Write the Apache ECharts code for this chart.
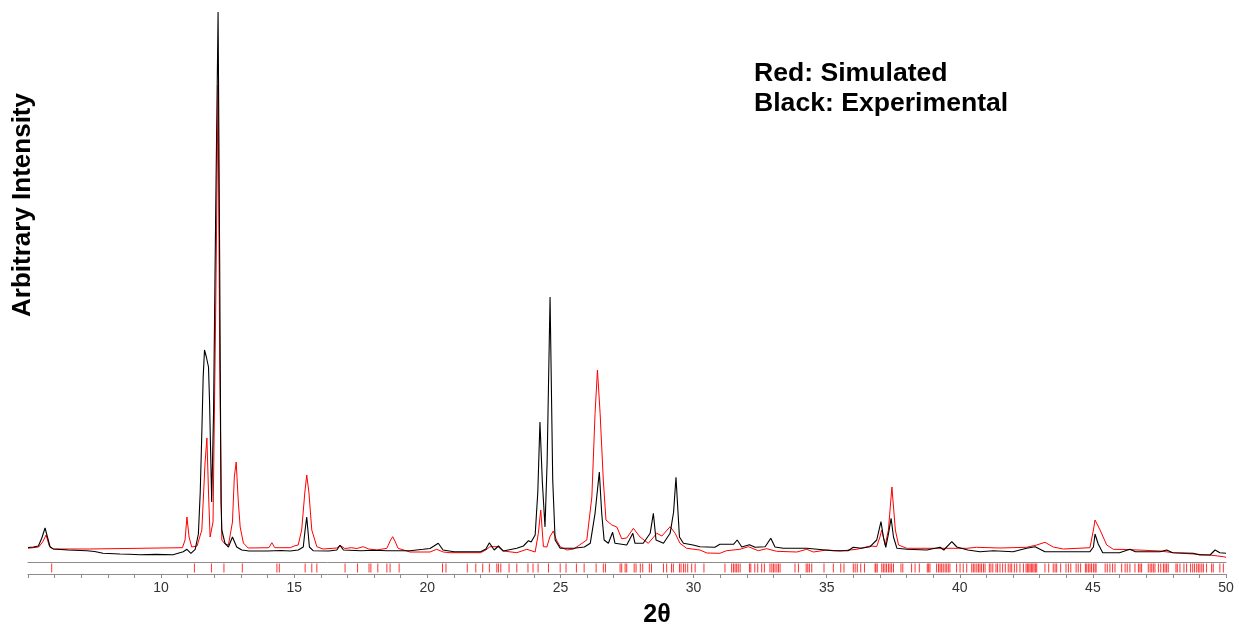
<!DOCTYPE html>
<html>
<head>
<meta charset="utf-8">
<script src="https://cdn.jsdelivr.net/npm/echarts@6/dist/echarts.min.js"></script>
<style>
html,body{margin:0;padding:0;background:#fff;}
#chart{width:1239px;height:630px;}
</style>
</head>
<body>
<div id="chart"></div>
<script>
// Experimental pattern (black): [2theta, intensity]
const experimental = [
[5.00,14.5],[5.20,15],[5.39,16],[5.52,24],[5.64,34],[5.74,24],[5.83,15],[5.95,13],[6.5,12],[7.21,11.3],[7.5,10.5],[7.82,8.7],[8.45,8],[8.8,7.8],[9.21,7.3],[9.8,7.6],[10.45,7.3],[10.83,10.3],[10.97,12.7],[11.12,8.7],[11.28,12.7],[11.40,28],[11.47,70],[11.53,130],[11.58,185],[11.63,212],[11.70,205],[11.78,195],[11.82,160],[11.90,60],[11.97,150],[12.05,350],[12.14,550],[12.20,300],[12.25,60],[12.28,32],[12.40,18.7],[12.53,15],[12.68,25],[12.84,15],[13.03,12],[13.3,11],[14.0,11],[14.5,11.5],[14.85,11],[15.15,12],[15.34,15],[15.40,30],[15.47,45],[15.52,30],[15.57,15],[15.71,11.3],[16.3,11],[16.60,12],[16.72,16.7],[16.85,12],[17.5,11.3],[18.0,11.8],[18.5,11.3],[19.35,11.3],[19.84,12.7],[20.10,13.5],[20.25,16],[20.41,18.7],[20.59,12],[21.0,10.3],[22.0,10.3],[22.20,13],[22.33,19.3],[22.51,12],[22.67,16],[22.85,11],[23.36,13.7],[23.61,16],[23.80,21.3],[23.90,20],[24.05,27],[24.15,70],[24.23,140],[24.32,80],[24.42,35],[24.50,100],[24.61,265],[24.71,82],[24.80,22],[24.99,13.7],[25.5,13.7],[25.9,15],[26.12,18.7],[26.30,48.7],[26.46,90],[26.55,48.7],[26.64,22],[26.80,18.7],[26.96,29.7],[27.05,18.7],[27.49,17],[27.72,28.7],[27.80,18.7],[28.11,18.7],[28.37,28.7],[28.49,48.7],[28.59,22],[28.87,18.7],[29.12,28.7],[29.25,50],[29.34,84.7],[29.47,25],[29.62,18.7],[29.98,17],[30.24,15.3],[30.8,14.7],[30.99,17.7],[31.5,17.7],[31.64,22],[31.81,15],[32.10,17.3],[32.31,14.7],[32.69,15.3],[32.90,23.7],[33.06,15],[33.37,13.7],[34.25,13.7],[35.25,11.3],[35.8,11.3],[36.00,14.7],[36.3,13.7],[36.63,15.3],[36.88,22],[37.04,40.3],[37.13,25],[37.22,14.7],[37.32,28],[37.42,43.7],[37.51,25],[37.64,13.7],[38.01,12.7],[38.76,12],[39.26,14.7],[39.4,12],[39.70,20.3],[39.89,15],[40.3,12],[40.76,10.3],[41.26,11.3],[42.0,10.3],[42.51,13.7],[42.83,15.3],[43.20,10.3],[44.39,10.3],[44.89,10.3],[45.02,15],[45.08,28],[45.20,18],[45.37,9.3],[46.0,9.3],[46.39,12.7],[46.6,10.3],[47.52,10.3],[47.77,12],[48.0,9.3],[48.77,8.7],[49.02,7],[49.40,7],[49.59,12],[49.77,9.3],[50.0,8.7]
];
// Simulated pattern (red): [2theta, intensity]
const simulated = [
[5.00,13.7],[5.40,15],[5.55,20],[5.68,27],[5.80,16],[5.95,13],[6.5,13],[7.30,13],[7.35,14.3],[10.80,14.3],[10.90,22],[10.97,45],[11.05,25],[11.15,15],[11.35,16],[11.53,32],[11.65,99],[11.72,124],[11.78,70],[11.84,25],[11.95,40],[12.05,250],[12.14,477],[12.20,200],[12.28,22],[12.40,18],[12.53,17],[12.68,40],[12.75,85],[12.82,100],[12.90,60],[12.97,35],[13.09,19],[13.27,14],[14.05,14.3],[14.16,19.3],[14.27,14.3],[14.85,14.3],[15.0,16],[15.15,17],[15.28,32],[15.40,70],[15.47,87],[15.55,70],[15.66,32],[15.85,15.3],[16.08,13],[16.60,14],[16.72,16.7],[16.90,13.5],[17.14,14.3],[17.35,13.5],[17.59,15.3],[17.8,13],[18.1,12],[18.48,13.7],[18.62,22],[18.70,25.3],[18.80,20],[18.90,13.7],[19.35,10],[20.1,10],[20.35,12.7],[20.6,10],[20.85,9.3],[22.0,9.3],[22.20,12],[22.35,15.3],[22.66,15.3],[22.85,11],[23.36,9.3],[23.74,12.7],[24.05,10],[24.17,28.7],[24.26,52],[24.36,15.3],[24.49,15],[24.60,25],[24.73,31],[24.85,22],[24.99,15.3],[25.24,12],[25.5,13],[25.99,22],[26.18,65],[26.30,148.7],[26.39,192],[26.49,148.7],[26.61,82],[26.71,42],[26.93,37],[27.12,35],[27.30,23.3],[27.49,24],[27.74,33.7],[27.99,25],[28.30,18.7],[28.62,28.7],[28.81,26],[29.12,35.3],[29.31,28.7],[29.49,18.7],[29.74,13.7],[30.24,12],[30.5,9],[30.99,8.7],[31.24,11.3],[31.74,12.7],[32.06,15.3],[32.43,11.3],[32.75,13.3],[33.12,10.7],[33.88,10],[34.25,12.7],[34.5,10],[35.00,12],[35.5,11],[36.13,12.7],[36.63,16],[36.88,15.5],[37.00,25],[37.07,32],[37.20,17],[37.32,32],[37.45,75],[37.58,32],[37.70,17],[38.01,13.7],[39.0,13.7],[39.51,13.7],[40.26,13.7],[40.63,14.7],[41.51,14],[42.51,14.7],[42.89,17],[43.20,19.7],[43.51,15],[43.89,13],[44.89,14.3],[45.02,32],[45.08,42],[45.27,32],[45.52,17],[45.77,12.7],[46.27,12.5],[47.52,11],[48.02,9.3],[48.77,8],[49.40,7],[49.90,5.3],[50.0,4.7]
];
// Calculated reflection positions (red ticks), 2theta
const reflections = [
5.89,11.25,11.89,12.36,13.05,14.35,14.44,15.41,15.66,15.85,16.91,17.38,17.81,17.88,18.14,18.48,18.60,18.94,
20.57,20.70,21.50,21.82,22.08,22.33,22.61,22.67,22.76,23.07,23.36,23.78,23.97,24.16,24.55,24.99,25.21,25.60,25.89,26.34,26.61,26.69,27.24,27.30,27.43,27.49,27.77,27.84,28.00,28.09,28.34,28.42,28.87,28.99,29.17,29.24,29.47,29.53,29.62,29.69,29.78,29.93,30.06,30.39,31.18,31.43,31.50,31.56,31.62,31.68,31.75,32.10,32.15,32.30,32.41,32.56,32.66,32.87,32.94,33.00,33.06,33.13,33.19,33.25,33.81,33.94,34.23,34.29,34.35,34.44,
34.90,35.25,35.53,35.65,36.00,36.07,36.15,36.28,36.42,36.82,36.85,36.90,37.07,37.13,37.19,37.25,37.32,37.38,37.44,37.51,37.79,37.86,38.19,38.32,38.48,38.78,38.83,38.88,39.13,39.20,39.26,39.32,39.38,39.45,39.51,39.57,39.63,39.88,40.01,40.13,40.26,40.45,40.51,40.57,40.64,40.70,40.76,40.82,40.89,40.95,41.11,41.17,41.24,41.36,41.42,41.51,41.61,41.71,41.82,41.89,41.95,42.05,42.14,42.26,42.39,42.49,42.54,42.59,42.64,42.69,42.74,42.79,42.84,42.89,43.20,43.34,43.51,43.58,43.64,43.79,43.99,44.08,44.17,44.37,44.45,44.54,44.72,44.77,44.83,44.89,44.95,45.02,45.08,45.12,45.46,45.54,45.64,45.74,45.83,46.08,46.21,46.29,46.39,46.58,46.71,46.77,46.83,47.08,47.15,47.21,47.27,47.33,47.46,47.55,47.65,47.71,47.77,47.83,48.12,48.17,48.27,48.42,48.52,48.67,48.75,48.82,48.90,48.96,49.02,49.09,49.15,49.27,49.46,49.52,49.77,49.90
];
const xMin = 5, xMax = 50;

const chart = echarts.init(document.getElementById('chart'), null, {renderer:'canvas'});
const F = 'Arial, "Liberation Sans", sans-serif';
chart.setOption({
  animation: false,
  backgroundColor: '#ffffff',
  grid: [
    {left: 28, right: 13, top: 0, height: 562},
    {left: 28, right: 13, top: 562, height: 12}
  ],
  xAxis: [
    {gridIndex: 0, type: 'value', min: xMin, max: xMax,
     axisLine: {show: true, lineStyle: {color: '#8c8c8c', width: 1}},
     axisTick: {show: false}, axisLabel: {show: false}, splitLine: {show: false}},
    {gridIndex: 1, type: 'value', min: xMin, max: xMax, interval: 1,
     axisLine: {show: true, lineStyle: {color: '#8c8c8c', width: 1}},
     axisTick: {show: true, length: 4, lineStyle: {color: '#8c8c8c'}},
     axisLabel: {margin: 7, fontFamily: F, fontSize: 14, color: '#333',
       formatter: function(v){ return (v % 5 === 0 && v > xMin) ? String(v) : ''; }},
     splitLine: {show: false}}
  ],
  yAxis: [
    {gridIndex: 0, type: 'value', min: 0, max: 562, show: false},
    {gridIndex: 1, type: 'value', min: 0, max: 1, show: false}
  ],
  series: [
    {type: 'line', xAxisIndex: 0, yAxisIndex: 0, data: simulated, showSymbol: false,
     lineStyle: {color: '#ff0000', width: 1}, z: 2, silent: true},
    {type: 'line', xAxisIndex: 0, yAxisIndex: 0, data: experimental, showSymbol: false,
     lineStyle: {color: '#000000', width: 1.1}, z: 3, silent: true},
    {type: 'scatter', xAxisIndex: 1, yAxisIndex: 1,
     data: reflections.map(function(r){ return [r, 0.5]; }),
     symbol: 'rect', symbolSize: [1, 9], itemStyle: {color: '#ff0000'}, silent: true}
  ],
  graphic: [
    {type: 'text', left: 754, top: 60, style: {text: 'Red: Simulated', font: 'bold 26.6px ' + F, fill: '#000'}},
    {type: 'text', left: 754, top: 90, style: {text: 'Black: Experimental', font: 'bold 26.6px ' + F, fill: '#000'}},
    {type: 'text', x: 657, y: 615, style: {text: '2θ', font: 'bold 25px ' + F, fill: '#000', align: 'center', verticalAlign: 'middle'}},
    {type: 'text', x: 23, y: 205, rotation: Math.PI/2, style: {text: 'Arbitrary Intensity', font: 'bold 26px ' + F, fill: '#000', align: 'center', verticalAlign: 'middle'}}
  ]
});
</script>
</body>
</html>
